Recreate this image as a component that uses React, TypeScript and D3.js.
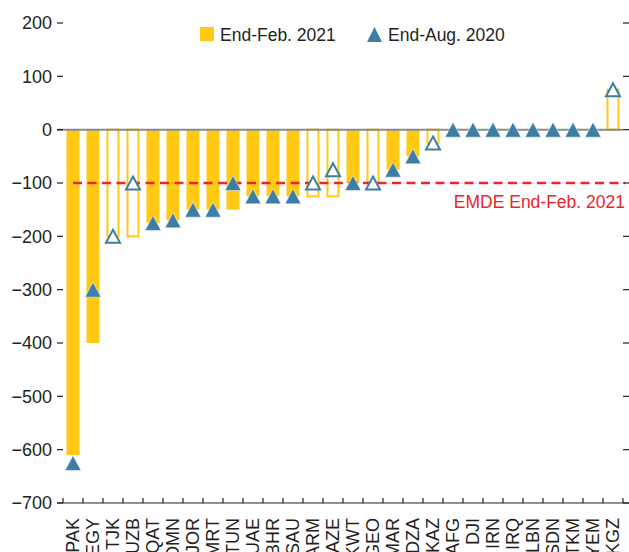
import React from "react";
import * as d3 from "d3";

const categories = ["PAK","EGY","TJK","UZB","QAT","OMN","JOR","MRT","TUN","UAE","BHR","SAU","ARM","AZE","KWT","GEO","MAR","DZA","KAZ","AFG","DJI","IRN","IRQ","LBN","SDN","TKM","YEM","KGZ"];
const endFeb2021 = [-610,-400,-200,-200,-175,-170,-150,-150,-150,-125,-125,-125,-125,-125,-100,-100,-75,-50,-25,0,0,0,0,0,0,0,0,75];
const endAug2020 = [-625,-300,-200,-100,-175,-170,-150,-150,-100,-125,-125,-125,-100,-75,-100,-100,-75,-50,-25,0,0,0,0,0,0,0,0,75];
const hollow = [false,false,true,true,false,false,false,false,false,false,false,false,true,true,false,true,false,false,true,false,false,false,false,false,false,false,false,true];
const yTicks = [200,100,0,-100,-200,-300,-400,-500,-600,-700];
const emdeValue = -100;
const seriesNames = ["End-Feb. 2021", "End-Aug. 2020"];
const emdeLabel = "EMDE End-Feb. 2021";

const YELLOW = "#FFC914";
const BLUE = "#3D7EA6";
const RED = "#E8262B";
const TEXT = "#231F20";
const FONT = "'Liberation Sans', Arial, sans-serif";

function tri(cx: number, cy: number, w: number, h: number) {
  return `M${cx},${cy - h / 2}L${cx + w / 2},${cy + h / 2}L${cx - w / 2},${cy + h / 2}Z`;
}

export default function App() {
  const W = 629, H = 552;
  const x = d3.scaleBand<string>().domain(categories).range([63, 623]).paddingInner(0.35).paddingOuter(0.175);
  const y = d3.scaleLinear().domain([-700, 200]).range([503, 23]);
  const step = x.step();
  const bw = x.bandwidth();
  const cx = (c: string) => (x(c) as number) + bw / 2;
  const y0 = y(0);

  return (
    <svg width={W} height={H} style={{ position: "absolute", left: 0, top: 0, fontFamily: FONT }}>
      {/* bars */}
      {categories.map((c, i) => {
        const v = endFeb2021[i];
        if (v === 0) return null;
        const top = Math.min(y(v), y0);
        const h = Math.abs(y(v) - y0);
        return hollow[i] ? (
          <rect key={c} x={(x(c) as number) + 1} y={top} width={bw - 2} height={h} fill="#fff" stroke={YELLOW} strokeWidth={2} />
        ) : (
          <rect key={c} x={x(c)} y={top} width={bw} height={h} fill={YELLOW} />
        );
      })}
      {/* zero line */}
      <line x1={57} x2={623} y1={y0} y2={y0} stroke="#8a8a8a" strokeWidth={2} />
      {/* EMDE dashed line */}
      <line x1={cx(categories[0])} x2={625} y1={y(emdeValue)} y2={y(emdeValue)} stroke={RED} strokeWidth={2.5} strokeDasharray="9,5.5" />
      <text x={625} y={208} textAnchor="end" fill={RED} fontSize={17.5}>{emdeLabel}</text>
      {/* triangles */}
      {categories.map((c, i) => (
        <path key={c} d={tri(cx(c), y(endAug2020[i]), hollow[i] ? 14 : 16, hollow[i] ? 13 : 15)}
          fill={hollow[i] ? "#fff" : BLUE} stroke={hollow[i] ? BLUE : "#fff"} strokeWidth={hollow[i] ? 2 : 0.5} strokeLinejoin="miter" />
      ))}
      {/* left y ticks */}
      {yTicks.map((t) => (
        <g key={t}>
          <line x1={57} x2={63} y1={y(t)} y2={y(t)} stroke={TEXT} strokeWidth={1.2} />
          <line x1={623} x2={629} y1={y(t)} y2={y(t)} stroke={TEXT} strokeWidth={1.2} />
          <text x={52} y={y(t)} dy="0.36em" textAnchor="end" fill={TEXT} fontSize={18}>
            {t < 0 ? "\u2212" + Math.abs(t) : String(t)}
          </text>
        </g>
      ))}
      {/* bottom axis */}
      <line x1={57} x2={629} y1={y(-700)} y2={y(-700)} stroke={TEXT} strokeWidth={1.2} />
      {d3.range(categories.length + 1).map((k) => (
        <line key={k} x1={63 + k * step} x2={63 + k * step} y1={y(-700)} y2={y(-700) - 5} stroke={TEXT} strokeWidth={1.2} />
      ))}
      {categories.map((c) => (
        <text key={c} transform={`translate(${cx(c)},518) rotate(-90)`} textAnchor="end" dy="0.36em" fill={TEXT} fontSize={18}>{c}</text>
      ))}
      {/* legend */}
      <rect x={200} y={27} width={14} height={14} fill={YELLOW} />
      <text x={220} y={41} fill={TEXT} fontSize={17.5}>{seriesNames[0]}</text>
      <path d={tri(374.5, 34.5, 15, 15)} fill={BLUE} />
      <text x={388} y={41} fill={TEXT} fontSize={17.5}>{seriesNames[1]}</text>
    </svg>
  );
}
